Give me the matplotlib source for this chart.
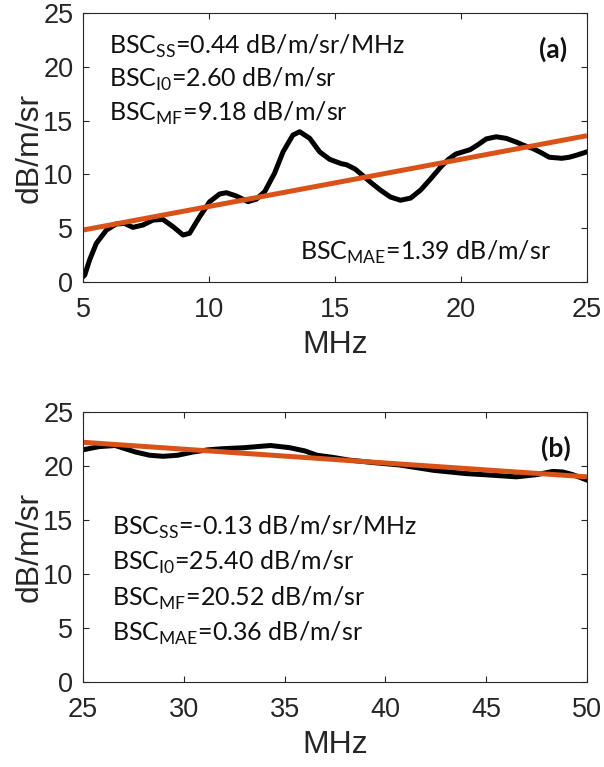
import matplotlib
matplotlib.use("Agg")
import matplotlib.pyplot as plt

# panel (a): 5-25 MHz
fa = [5.0, 5.07, 5.26, 5.53, 5.93, 6.32, 6.65, 6.98, 7.38, 7.78, 8.17, 8.57, 8.97, 9.23, 9.63, 10.03, 10.42,
      10.69, 11.08, 11.55, 11.88, 12.21, 12.6, 12.94, 13.33, 13.6, 14.0, 14.39, 14.79, 15.25, 15.46, 15.8, 16.1,
      16.45, 16.8, 17.2, 17.6, 18.0, 18.4, 18.8, 19.2, 19.5, 19.8, 20.36, 20.7, 21.0, 21.4, 21.8, 22.2, 22.5,
      22.86, 23.2, 23.5, 24.0, 24.3, 24.6, 25.0]
bsc_a = [0.5, 0.65, 2.04, 3.6, 4.83, 5.39, 5.45, 5.08, 5.3, 5.76, 5.82, 5.15, 4.37, 4.53, 6.07, 7.47, 8.18,
         8.3, 8.0, 7.47, 7.7, 8.4, 10.1, 12.1, 13.66, 13.97, 13.35, 12.1, 11.4, 11.0, 10.9, 10.5, 9.9,
         9.2, 8.55, 7.9, 7.6, 7.8, 8.55, 9.6, 10.7, 11.4, 11.9, 12.3, 12.8, 13.3, 13.5, 13.35, 13.0, 12.7,
         12.4, 12.0, 11.6, 11.5, 11.6, 11.8, 12.1]
fit_fa = [5, 25]
fit_a = [4.83, 13.6]

# panel (b): 25-50 MHz
fb = [25.0, 25.8, 26.6, 27.6, 28.3, 28.97, 29.7, 30.46, 31.2, 31.9, 33.0, 34.3, 35.25, 36.0, 36.6, 37.4, 38.2,
      39.5, 40.7, 42.4, 44.0, 45.3, 46.5, 47.5, 48.3, 48.8, 49.3, 50.0]
bsc_b = [21.5, 21.8, 21.9, 21.3, 21.0, 20.9, 21.0, 21.3, 21.5, 21.6, 21.7, 21.9, 21.7, 21.4, 21.0, 20.8, 20.55,
         20.3, 20.1, 19.6, 19.3, 19.15, 19.0, 19.2, 19.5, 19.45, 19.2, 18.7]
fit_fb = [25, 50]
fit_b = [22.2, 19.0]

txt_a = [r'BSC$_{\mathregular{SS}}$=0.44 dB/m/sr/MHz',
         r'BSC$_{\mathregular{I0}}$=2.60 dB/m/sr',
         r'BSC$_{\mathregular{MF}}$=9.18 dB/m/sr']
mae_a = r'BSC$_{\mathregular{MAE}}$=1.39 dB/m/sr'
txt_b = [r'BSC$_{\mathregular{SS}}$=-0.13 dB/m/sr/MHz',
         r'BSC$_{\mathregular{I0}}$=25.40 dB/m/sr',
         r'BSC$_{\mathregular{MF}}$=20.52 dB/m/sr',
         r'BSC$_{\mathregular{MAE}}$=0.36 dB/m/sr']

plt.rcParams.update({'font.family': 'Liberation Sans',
                     'mathtext.fontset': 'custom',
                     'mathtext.rm': 'Lato',
                     'xtick.direction': 'in',
                     'ytick.direction': 'in',
                     'xtick.top': True,
                     'ytick.right': True,
                     'xtick.labelsize': 19.5,
                     'ytick.labelsize': 19.5,
                     'axes.labelsize': 23,
                     'axes.edgecolor': '#262626',
                     'xtick.color': '#262626',
                     'ytick.color': '#262626',
                     'axes.linewidth': 0.8})

fig = plt.figure(figsize=(6.04, 7.67), dpi=100)
ax1 = fig.add_axes([0.1374, 0.6323, 0.8344, 0.3507])
ax2 = fig.add_axes([0.1374, 0.1108, 0.8344, 0.3520])

black = 'black'
orange = '#D95319'
lw = 3.6
tf = {'family': 'Lato', 'size': 18, 'color': '#111111'}
lab = {'family': 'Lato', 'size': 19, 'color': '#111111', 'weight': 'bold'}

ax1.plot(fa, bsc_a, color=black, lw=lw, solid_joinstyle='round')
ax1.plot(fit_fa, fit_a, color=orange, lw=lw, solid_capstyle='butt')
ax1.set_xlim(5, 25)
ax1.set_ylim(0, 25)
ax1.set_xticks([5, 10, 15, 20, 25])
ax1.set_yticks([0, 5, 10, 15, 20, 25])
ax1.set_xlabel('MHz', color='#262626', labelpad=5)
ax1.set_ylabel('dB/m/sr', color='#262626', labelpad=-1)
for i, t in enumerate(txt_a):
    ax1.text(6.05, 21.2 - 3.1 * i, t, fontdict=tf, va='baseline')
ax1.text(13.6, 2.1, mae_a, fontdict=tf, va='baseline')
ax1.text(24.2, 21.6, '(a)', fontdict=lab, ha='right', va='center')

ax2.plot(fb, bsc_b, color=black, lw=lw, solid_joinstyle='round')
ax2.plot(fit_fb, fit_b, color=orange, lw=lw, solid_capstyle='butt')
ax2.set_xlim(25, 50)
ax2.set_ylim(0, 25)
ax2.set_xticks([25, 30, 35, 40, 45, 50])
ax2.set_yticks([0, 5, 10, 15, 20, 25])
ax2.set_xlabel('MHz', color='#262626', labelpad=5)
ax2.set_ylabel('dB/m/sr', color='#262626', labelpad=-1)
for i, t in enumerate(txt_b):
    ax2.text(26.45, 13.6 - 3.25 * i, t, fontdict=tf, va='baseline')
ax2.text(49.2, 21.6, '(b)', fontdict=lab, ha='right', va='center')

for ax in (ax1, ax2):
    ax.tick_params(axis='x', length=4, width=0.8, pad=11)
    ax.tick_params(axis='y', length=4, width=0.8, pad=7)

fig.savefig('out.png', dpi=100)
